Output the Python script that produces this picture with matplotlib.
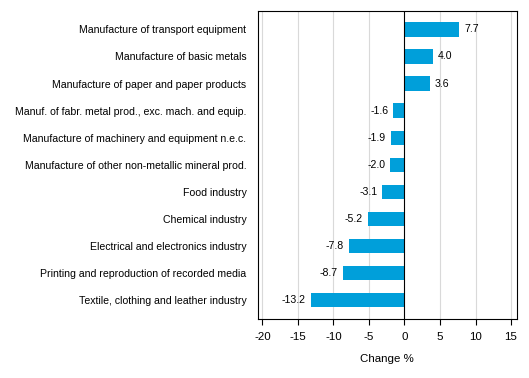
import matplotlib
matplotlib.use("Agg")
import matplotlib.pyplot as plt

categories = [
    "Manufacture of transport equipment",
    "Manufacture of basic metals",
    "Manufacture of paper and paper products",
    "Manuf. of fabr. metal prod., exc. mach. and equip.",
    "Manufacture of machinery and equipment n.e.c.",
    "Manufacture of other non-metallic mineral prod.",
    "Food industry",
    "Chemical industry",
    "Electrical and electronics industry",
    "Printing and reproduction of recorded media",
    "Textile, clothing and leather industry",
]
values = [7.7, 4.0, 3.6, -1.6, -1.9, -2.0, -3.1, -5.2, -7.8, -8.7, -13.2]
xticks = [-20, -15, -10, -5, 0, 5, 10, 15]

plt.rcParams['font.family'] = ['Liberation Sans', 'DejaVu Sans']
fig = plt.figure(figsize=(5.29, 3.78), dpi=100)
ax = fig.add_axes([257.5/529, 1-319/378, (516.7-257.5)/529, (319-10.7)/378])

n = len(categories)
ypos = list(range(n))[::-1]
ax.barh(ypos, values, height=0.53, color="#009FDA", zorder=3)
for y, v in zip(ypos, values):
    if v >= 0:
        ax.text(v + 0.7, y, f"{v:.1f}", va="center", ha="left", fontsize=7.6, zorder=4)
    else:
        ax.text(v - 0.7, y, f"{v:.1f}", va="center", ha="right", fontsize=7.6, zorder=4)

ax.set_xlim(-20.7, 15.8)
ax.set_ylim(-0.69, n - 1 + 0.69)
ax.set_xticks(xticks)
ax.set_xticklabels([str(t) for t in xticks], fontsize=8.25)
ax.set_yticks(ypos)
ax.set_yticklabels(categories, fontsize=7.6)
ax.tick_params(axis='y', length=0, pad=8)
ax.tick_params(axis='x', length=4, width=0.8, direction='out', pad=5)
for t in xticks:
    if t != 0:
        ax.axvline(t, color="#d9d9d9", lw=0.8, zorder=1)
ax.axvline(0, color="black", lw=0.8, zorder=3.5)
for s in ax.spines.values():
    s.set_linewidth(0.8)
ax.set_xlabel("Change %", fontsize=8.25, labelpad=9)

fig.savefig("out.png", dpi=100)
